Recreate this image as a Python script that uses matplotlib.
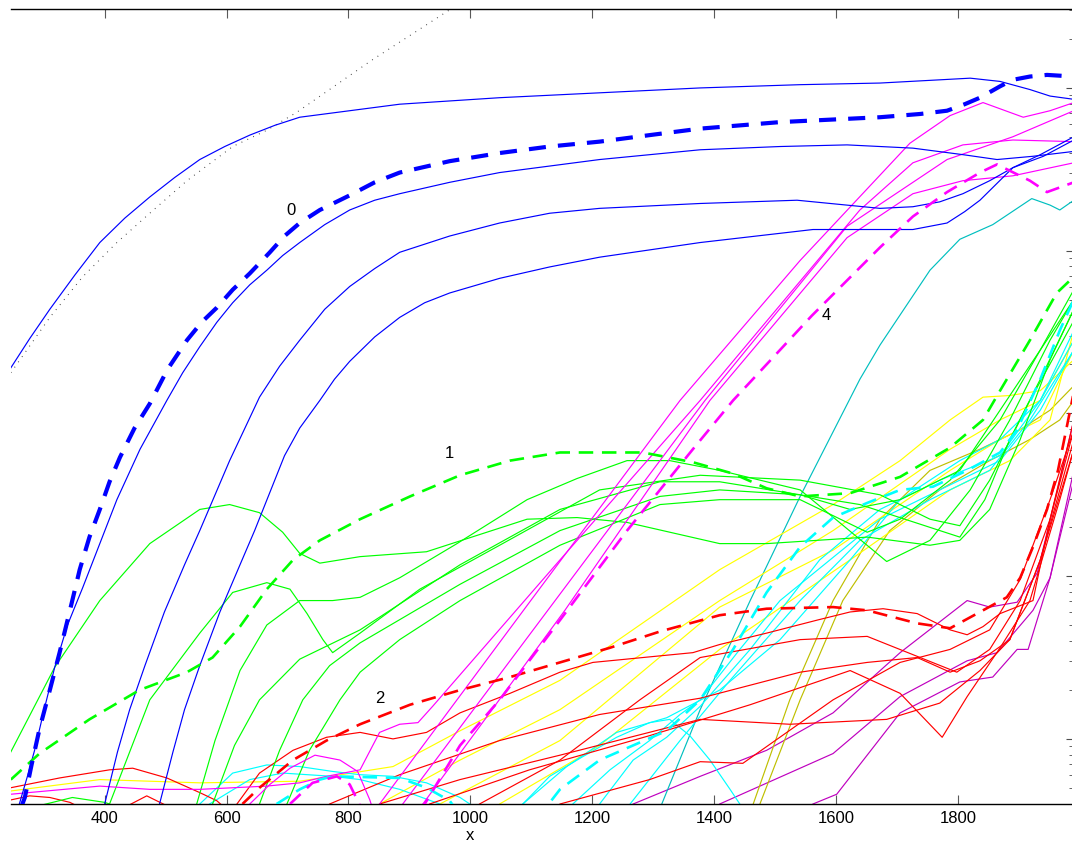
import numpy as np
import matplotlib
matplotlib.use("Agg")
import matplotlib.pyplot as plt

plt.rcParams['font.family'] = ['Liberation Sans', 'DejaVu Sans']

# ---- data: x positions and decimal exponents (log10) of the y values ----
# group 0 (blue)
b_mean_x = [264, 269, 280, 293, 310, 326, 343, 359, 375, 392, 408, 425, 449, 474, 503, 535, 559, 584, 610, 638, 671, 695, 720, 753, 802, 843, 884, 966, 1048, 1130, 1212, 1294, 1377, 1508, 1672, 1738, 1782, 1811, 1836, 1869, 1890, 1918, 1946, 1990]
b_mean_e = [-4.41, -4.36, -4.16, -3.94, -3.70, -3.47, -3.21, -2.96, -2.76, -2.59, -2.42, -2.27, -2.09, -1.94, -1.73, -1.55, -1.44, -1.35, -1.24, -1.14, -1.01, -0.91, -0.83, -0.75, -0.66, -0.58, -0.52, -0.45, -0.40, -0.36, -0.33, -0.29, -0.25, -0.21, -0.18, -0.16, -0.14, -0.10, -0.06, 0.01, 0.05, 0.07, 0.08, 0.07]
b1_x = [246, 277, 310, 351, 392, 433, 474, 515, 556, 597, 638, 679, 720, 802, 884, 1048, 1212, 1377, 1541, 1672, 1771, 1820, 1869, 1918, 1951, 1990]
b1_e = [-1.72, -1.54, -1.36, -1.15, -0.95, -0.80, -0.67, -0.55, -0.44, -0.36, -0.29, -0.23, -0.18, -0.14, -0.10, -0.06, -0.03, 0.00, 0.02, 0.03, 0.05, 0.06, 0.04, -0.01, -0.05, -0.07]
b2_x = [260, 274, 285, 302, 318, 339, 364, 392, 420, 458, 502, 528, 556, 584, 610, 638, 666, 692, 720, 761, 802, 843, 884, 966, 1048, 1212, 1377, 1508, 1618, 1726, 1808, 1864, 1923, 1990]
b2_e = [-4.40, -4.22, -4.07, -3.80, -3.56, -3.30, -3.07, -2.80, -2.53, -2.22, -1.92, -1.75, -1.59, -1.44, -1.32, -1.21, -1.12, -1.03, -0.95, -0.84, -0.75, -0.69, -0.65, -0.58, -0.52, -0.44, -0.38, -0.36, -0.35, -0.37, -0.41, -0.44, -0.42, -0.39]
b3_x = [400, 421, 441, 466, 498, 531, 556, 605, 654, 687, 720, 761, 802, 843, 884, 966, 1048, 1130, 1212, 1377, 1536, 1672, 1726, 1770, 1808, 1852, 1890, 1940, 1990]
b3_e = [-4.40, -4.08, -3.82, -3.55, -3.22, -2.93, -2.72, -2.29, -1.90, -1.71, -1.55, -1.36, -1.22, -1.11, -1.01, -0.91, -0.83, -0.77, -0.74, -0.71, -0.69, -0.74, -0.73, -0.70, -0.65, -0.57, -0.49, -0.42, -0.32]
b4_x = [490, 512, 531, 556, 589, 622, 646, 695, 720, 753, 777, 802, 843, 884, 925, 966, 1048, 1130, 1212, 1377, 1562, 1726, 1782, 1811, 1836, 1890, 1935, 1990]
b4_e = [-4.40, -4.08, -3.82, -3.55, -3.22, -2.93, -2.72, -2.26, -2.09, -1.92, -1.79, -1.68, -1.53, -1.41, -1.32, -1.26, -1.17, -1.10, -1.04, -0.95, -0.87, -0.87, -0.83, -0.76, -0.69, -0.49, -0.41, -0.30]

# reference curve (dotted)
ref_x = [246, 310, 364, 420, 474, 535, 610, 666, 715, 838, 970, 999]
ref_e = [-1.75, -1.41, -1.16, -0.95, -0.77, -0.57, -0.36, -0.26, -0.15, 0.17, 0.49, 0.56]

# group 1 (green)
g_mean_x = [246, 293, 375, 457, 535, 577, 622, 666, 709, 753, 819, 901, 983, 1065, 1147, 1229, 1283, 1365, 1431, 1486, 1541, 1623, 1705, 1787, 1841, 1869, 1918, 1962, 1990]
g_mean_e = [-4.25, -4.09, -3.88, -3.70, -3.59, -3.50, -3.31, -3.08, -2.90, -2.78, -2.65, -2.51, -2.38, -2.29, -2.24, -2.24, -2.24, -2.30, -2.37, -2.46, -2.51, -2.49, -2.39, -2.21, -2.04, -1.86, -1.55, -1.26, -1.16]
g1_x = [246, 318, 392, 474, 556, 605, 654, 692, 720, 753, 819, 928, 1093, 1175, 1257, 1409, 1486, 1651, 1754, 1803, 1852, 1902, 1951, 1990]
g1_e = [-4.08, -3.56, -3.15, -2.80, -2.59, -2.56, -2.61, -2.73, -2.86, -2.92, -2.88, -2.85, -2.65, -2.64, -2.67, -2.80, -2.80, -2.76, -2.81, -2.78, -2.59, -2.16, -1.67, -1.36]
g2_x = [293, 347, 400, 408, 474, 556, 610, 666, 704, 732, 758, 774, 819, 917, 1048, 1212, 1377, 1541, 1672, 1754, 1803, 1852, 1918, 1990]
g2_e = [-4.41, -4.36, -4.39, -4.40, -3.76, -3.35, -3.10, -3.04, -3.08, -3.23, -3.39, -3.47, -3.35, -3.08, -2.81, -2.47, -2.38, -2.41, -2.50, -2.65, -2.69, -2.41, -1.92, -1.43]
g3_x = [551, 581, 622, 666, 720, 774, 819, 884, 978, 1093, 1175, 1257, 1327, 1409, 1541, 1683, 1754, 1820, 1885, 1951, 1990]
g3_e = [-4.40, -4.01, -3.58, -3.30, -3.15, -3.15, -3.13, -3.01, -2.80, -2.53, -2.40, -2.29, -2.29, -2.35, -2.47, -2.91, -2.78, -2.47, -2.04, -1.55, -1.30]
g4_x = [577, 613, 654, 720, 819, 983, 1147, 1311, 1409, 1541, 1623, 1705, 1803, 1869, 1935, 1990]
g4_e = [-4.40, -4.04, -3.76, -3.51, -3.33, -2.93, -2.59, -2.42, -2.42, -2.50, -2.59, -2.53, -2.35, -1.98, -1.61, -1.30]
g5_x = [654, 687, 725, 769, 819, 983, 1147, 1311, 1409, 1541, 1639, 1803, 1844, 1885, 1935, 1990]
g5_e = [-4.40, -4.07, -3.76, -3.55, -3.41, -3.05, -2.72, -2.51, -2.47, -2.50, -2.56, -2.76, -2.53, -2.16, -1.79, -1.36]
g6_x = [699, 736, 786, 819, 884, 983, 1147, 1311, 1409, 1541, 1651, 1705, 1787, 1869, 1935, 1990]
g6_e = [-4.40, -4.07, -3.76, -3.59, -3.39, -3.15, -2.81, -2.56, -2.53, -2.53, -2.73, -2.65, -2.41, -2.04, -1.61, -1.24]

# group 2 (red)
r_mean_x = [626, 654, 709, 764, 819, 901, 983, 1065, 1147, 1229, 1311, 1409, 1486, 1595, 1651, 1733, 1787, 1841, 1880, 1902, 1923, 1946, 1964, 1984, 1992]
r_mean_e = [-4.40, -4.30, -4.13, -4.01, -3.91, -3.79, -3.70, -3.62, -3.53, -3.44, -3.34, -3.24, -3.20, -3.19, -3.21, -3.29, -3.32, -3.21, -3.13, -3.01, -2.82, -2.59, -2.35, -1.98, -1.83]
r0_x = [246, 277, 310, 343, 359]
r0_e = [-4.375, -4.35, -4.36, -4.39, -4.42]
r0b_x = [433, 469, 507]
r0b_e = [-4.42, -4.35, -4.42]
r1_x = [246, 326, 408, 446, 502, 556, 584, 605]
r1_e = [-4.30, -4.24, -4.19, -4.18, -4.24, -4.33, -4.38, -4.45]
r2_x = [617, 654, 709, 764, 819, 873, 928, 983, 1065, 1147, 1201, 1283, 1365, 1409, 1486, 1569, 1623, 1677, 1733, 1787, 1815, 1841, 1869, 1923, 1951, 1990]
r2_e = [-4.40, -4.21, -4.07, -3.99, -3.96, -4.00, -3.96, -3.84, -3.72, -3.59, -3.53, -3.50, -3.47, -3.42, -3.35, -3.27, -3.22, -3.20, -3.23, -3.33, -3.36, -3.31, -3.23, -3.15, -2.65, -2.04]
r3_x = [769, 884, 1048, 1212, 1377, 1541, 1651, 1733, 1787, 1836, 1885, 1935, 1990]
r3_e = [-4.40, -4.22, -4.01, -3.85, -3.75, -3.59, -3.53, -3.50, -3.59, -3.52, -3.39, -2.90, -2.16]
r4_x = [851, 983, 1147, 1377, 1524, 1683, 1770, 1836, 1885, 1935, 1990]
r4_e = [-4.40, -4.25, -4.10, -3.88, -3.91, -3.88, -3.78, -3.58, -3.39, -2.90, -2.22]
r5_x = [933, 1097, 1294, 1459, 1623, 1705, 1774, 1815, 1869, 1918, 1967, 1990]
r5_e = [-4.40, -4.19, -3.98, -3.79, -3.58, -3.72, -3.99, -3.74, -3.44, -3.15, -2.53, -2.22]
r6_x = [1147, 1294, 1377, 1447, 1595, 1705, 1787, 1852, 1902, 1951, 1990]
r6_e = [-4.40, -4.25, -4.14, -4.15, -3.76, -3.53, -3.45, -3.33, -3.02, -2.53, -2.10]
r7_x = [1015, 1147, 1278, 1377, 1541, 1651, 1798, 1852, 1902, 1951, 1990]
r7_e = [-4.40, -4.13, -3.76, -3.50, -3.39, -3.37, -3.59, -3.45, -3.15, -2.65, -2.10]

# group 3 (cyan)
c_mean_x = [682, 720, 753, 774, 884, 928, 966, 983, 1114, 1147, 1212, 1322, 1377, 1431, 1486, 1541, 1595, 1651, 1705, 1759, 1815, 1869, 1897, 1935, 1967, 1990]
c_mean_e = [-4.40, -4.31, -4.25, -4.23, -4.24, -4.30, -4.38, -4.47, -4.47, -4.31, -4.13, -3.95, -3.76, -3.45, -3.10, -2.82, -2.64, -2.55, -2.47, -2.45, -2.35, -2.24, -2.10, -1.79, -1.49, -1.30]
c1_x = [1086, 1158, 1240, 1322, 1409, 1508, 1623, 1705, 1803, 1869, 1935, 1990]
c1_e = [-4.40, -4.17, -3.96, -3.87, -3.70, -3.39, -2.90, -2.53, -2.29, -2.16, -1.92, -1.49]
c2_x = [1212, 1267, 1322, 1377, 1459, 1573, 1672, 1770, 1869, 1935, 1990]
c2_e = [-4.40, -4.13, -3.99, -3.80, -3.45, -2.90, -2.59, -2.41, -2.26, -1.92, -1.55]
c3_x = [1262, 1344, 1426, 1541, 1639, 1754, 1852, 1918, 1990]
c3_e = [-4.40, -4.01, -3.64, -3.15, -2.78, -2.53, -2.35, -2.04, -1.61]
c4_x = [556, 610, 666, 720, 774, 819, 873, 928, 983, 999]
c4_e = [-4.40, -4.21, -4.16, -4.17, -4.20, -4.22, -4.23, -4.27, -4.36, -4.40]
c5_x = [572, 638, 692, 774, 819, 884, 950]
c5_e = [-4.40, -4.25, -4.21, -4.23, -4.25, -4.31, -4.40]
c6_x = [1086, 1130, 1184, 1240, 1294, 1327, 1360, 1393, 1426, 1442]
c6_e = [-4.40, -4.23, -4.11, -3.99, -3.90, -3.88, -3.98, -4.13, -4.31, -4.40]
c7_x = [1168, 1229, 1294, 1344, 1377, 1442, 1508, 1590, 1672, 1770, 1869, 1935, 1990]
c7_e = [-4.40, -4.19, -4.01, -3.85, -3.76, -3.45, -3.15, -2.90, -2.65, -2.47, -2.29, -1.98, -1.61]

# group 4 (magenta)
m_mean_x = [704, 741, 781, 802, 815, 827, 909, 925, 983, 1048, 1147, 1257, 1365, 1431, 1508, 1560, 1672, 1726, 1782, 1836, 1864, 1918, 1946, 1990]
m_mean_e = [-4.40, -4.27, -4.23, -4.28, -4.38, -4.47, -4.47, -4.40, -4.04, -3.76, -3.27, -2.72, -2.22, -1.92, -1.61, -1.40, -0.98, -0.79, -0.64, -0.52, -0.47, -0.57, -0.64, -0.58]
m1_x = [851, 1097, 1344, 1541, 1721, 1787, 1841, 1907, 1951, 1990]
m1_e = [-4.40, -3.16, -1.92, -1.06, -0.34, -0.17, -0.09, -0.18, -0.14, -0.09]
m2_x = [246, 392, 474, 556, 666, 720, 764, 819, 851, 884, 914, 938, 1147, 1377, 1639, 1726, 1808, 1890, 1990]
m2_e = [-4.34, -4.29, -4.31, -4.31, -4.29, -4.27, -4.23, -4.19, -3.96, -3.91, -3.90, -3.80, -2.90, -1.92, -0.75, -0.46, -0.35, -0.32, -0.33]
m3_x = [889, 1139, 1385, 1618, 1782, 1836, 1890, 1990]
m3_e = [-4.40, -3.15, -1.92, -0.85, -0.44, -0.37, -0.30, -0.14]
m4_x = [922, 1155, 1393, 1618, 1726, 1808, 1890, 1990]
m4_e = [-4.40, -3.21, -1.92, -0.92, -0.65, -0.57, -0.54, -0.46]
m5_x = [638, 671, 704, 745, 786, 815, 835, 843]
m5_e = [-4.40, -4.28, -4.18, -4.10, -4.13, -4.20, -4.375, -4.47]

# further single series
yl1_x = [246, 392, 556, 720, 873, 983, 1147, 1409, 1595, 1705, 1787, 1841, 1885, 1935, 1990]
yl1_e = [-4.32, -4.25, -4.27, -4.26, -4.17, -3.95, -3.64, -2.96, -2.56, -2.29, -2.04, -1.90, -1.89, -1.86, -1.67]
yl2_x = [851, 983, 1147, 1409, 1595, 1787, 1869, 1935, 1990]
yl2_e = [-4.40, -4.13, -3.82, -3.15, -2.72, -2.22, -2.04, -1.92, -1.55]
yl3_x = [950, 1147, 1409, 1595, 1787, 1869, 1935, 1990]
yl3_e = [-4.40, -4.01, -3.19, -2.84, -2.35, -2.16, -2.04, -1.61]
yl4_x = [1048, 1212, 1409, 1623, 1787, 1885, 1951, 1990]
yl4_e = [-4.40, -4.04, -3.45, -2.90, -2.47, -2.29, -2.04, -1.49]

pu1_x = [1267, 1377, 1486, 1595, 1705, 1815, 1852, 1897, 1930, 1967, 1990]
pu1_e = [-4.40, -4.23, -4.07, -3.84, -3.47, -3.15, -3.19, -3.16, -2.98, -2.41, -2.04]
pu2_x = [1562, 1601, 1705, 1803, 1857, 1897, 1915, 1951, 1990]
pu2_e = [-4.40, -4.34, -3.84, -3.65, -3.62, -3.45, -3.45, -3.01, -2.35]
pu3_x = [1409, 1595, 1705, 1815, 1864, 1923, 1951, 1990]
pu3_e = [-4.40, -4.09, -3.74, -3.52, -3.47, -3.21, -3.01, -2.41]

ol1_x = [1464, 1524, 1595, 1672, 1754, 1836, 1902, 1951, 1990]
ol1_e = [-4.40, -3.76, -3.15, -2.65, -2.35, -2.22, -2.10, -1.98, -1.83]
ol2_x = [1475, 1541, 1611, 1688, 1770, 1852, 1918, 1967, 1990]
ol2_e = [-4.40, -3.76, -3.15, -2.72, -2.47, -2.29, -2.16, -2.04, -1.92]

tl_x = [1314, 1377, 1459, 1541, 1639, 1672, 1754, 1803, 1857, 1921, 1951, 1967, 1990]
tl_e = [-4.40, -3.82, -3.15, -2.51, -1.79, -1.58, -1.12, -0.93, -0.84, -0.68, -0.72, -0.75, -0.69]

x_ticks = [400, 600, 800, 1000, 1200, 1400, 1600, 1800]
group_names = ['0', '1', '2', '4']

# ---- colours ----
BLUE, GREEN, RED, CYAN, MAGENTA, YELLOW = '#0000ff', '#00ff00', '#ff0000', '#00ffff', '#ff00ff', '#ffff00'
PURPLE, OLIVE, TEAL = '#bf00bf', '#bfbf00', '#00bfbf'

W, H = 1072, 844
fig = plt.figure(figsize=(W / 100, H / 100), dpi=100)
ax = fig.add_axes([11 / W, 40 / H, 1061 / W, 795 / H])
ax.set_yscale('log')
ax.set_xlim(246.3, 1987)
ax.set_ylim(10 ** -4.40, 10 ** 0.485)


def curve(xs, es, color, lw=0.9, dashes=None, zorder=2):
    ys = 10.0 ** np.asarray(es, dtype=float)
    line, = ax.plot(xs, ys, color=color, lw=lw, zorder=zorder,
                    solid_joinstyle='round', dash_capstyle='butt')
    if dashes is not None:
        line.set_dashes(dashes)
    return line


thin = 0.85
# reference
ax.plot(ref_x, 10.0 ** np.asarray(ref_e), color='0.25', lw=0.8,
        linestyle=(0, (0.8, 5.0)), zorder=2)

for xs, es in [(pu1_x, pu1_e), (pu2_x, pu2_e), (pu3_x, pu3_e)]:
    curve(xs, es, PURPLE, thin)
for xs, es in [(ol1_x, ol1_e), (ol2_x, ol2_e)]:
    curve(xs, es, OLIVE, thin)
curve(tl_x, tl_e, TEAL, thin)
for xs, es in [(yl1_x, yl1_e), (yl2_x, yl2_e), (yl3_x, yl3_e), (yl4_x, yl4_e)]:
    curve(xs, es, YELLOW, thin)
for xs, es in [(c1_x, c1_e), (c2_x, c2_e), (c3_x, c3_e), (c4_x, c4_e),
               (c5_x, c5_e), (c6_x, c6_e), (c7_x, c7_e)]:
    curve(xs, es, CYAN, thin)
for xs, es in [(r0_x, r0_e), (r0b_x, r0b_e), (r1_x, r1_e), (r2_x, r2_e),
               (r3_x, r3_e), (r4_x, r4_e), (r5_x, r5_e), (r6_x, r6_e), (r7_x, r7_e)]:
    curve(xs, es, RED, thin)
for xs, es in [(g1_x, g1_e), (g2_x, g2_e), (g3_x, g3_e), (g4_x, g4_e),
               (g5_x, g5_e), (g6_x, g6_e)]:
    curve(xs, es, GREEN, thin)
for xs, es in [(m1_x, m1_e), (m2_x, m2_e), (m3_x, m3_e), (m4_x, m4_e), (m5_x, m5_e)]:
    curve(xs, es, MAGENTA, thin)
for xs, es in [(b1_x, b1_e), (b2_x, b2_e), (b3_x, b3_e), (b4_x, b4_e)]:
    curve(xs, es, BLUE, thin)

# group means
curve(c_mean_x, c_mean_e, CYAN, 1.9, dashes=(5.5, 3.3), zorder=3)
curve(r_mean_x, r_mean_e, RED, 1.9, dashes=(5.5, 3.3), zorder=3)
curve(g_mean_x, g_mean_e, GREEN, 1.9, dashes=(5.5, 3.3), zorder=3)
curve(m_mean_x, m_mean_e, MAGENTA, 1.9, dashes=(5.5, 3.3), zorder=3)
curve(b_mean_x, b_mean_e, BLUE, 3.0, dashes=(4.1, 2.9), zorder=3)

# group labels
label_pos = [(705, -0.756), (966, -2.249), (851, -3.754), (1583, -1.401)]
for name, (lx, le) in zip(group_names, label_pos):
    ax.text(lx, 10 ** le, name, fontsize=12, ha='center', va='center', color='black')

# axes styling
ax.spines['left'].set_visible(False)
ax.spines['right'].set_visible(False)
for s in ('top', 'bottom'):
    ax.spines[s].set_linewidth(1.0)
ax.set_xticks(x_ticks)
ax.set_xticklabels([str(v) for v in x_ticks])
ax.tick_params(axis='x', which='both', direction='in', top=True, bottom=True,
               length=6.5, width=0.8, color='0.35', labelsize=12, pad=5)
ax.tick_params(axis='x', which='minor', top=False, bottom=False)
ax.tick_params(axis='y', which='major', direction='in', left=False, right=True,
               labelleft=False, length=4.3, width=0.8, color='0.3')
ax.tick_params(axis='y', which='minor', direction='in', left=False, right=True,
               length=2.2, width=0.6, color='0.3')
fig.text(470 / W, 1 - 836 / H, 'x', fontsize=12, ha='center', va='center')

fig.savefig('out.png', dpi=100)
